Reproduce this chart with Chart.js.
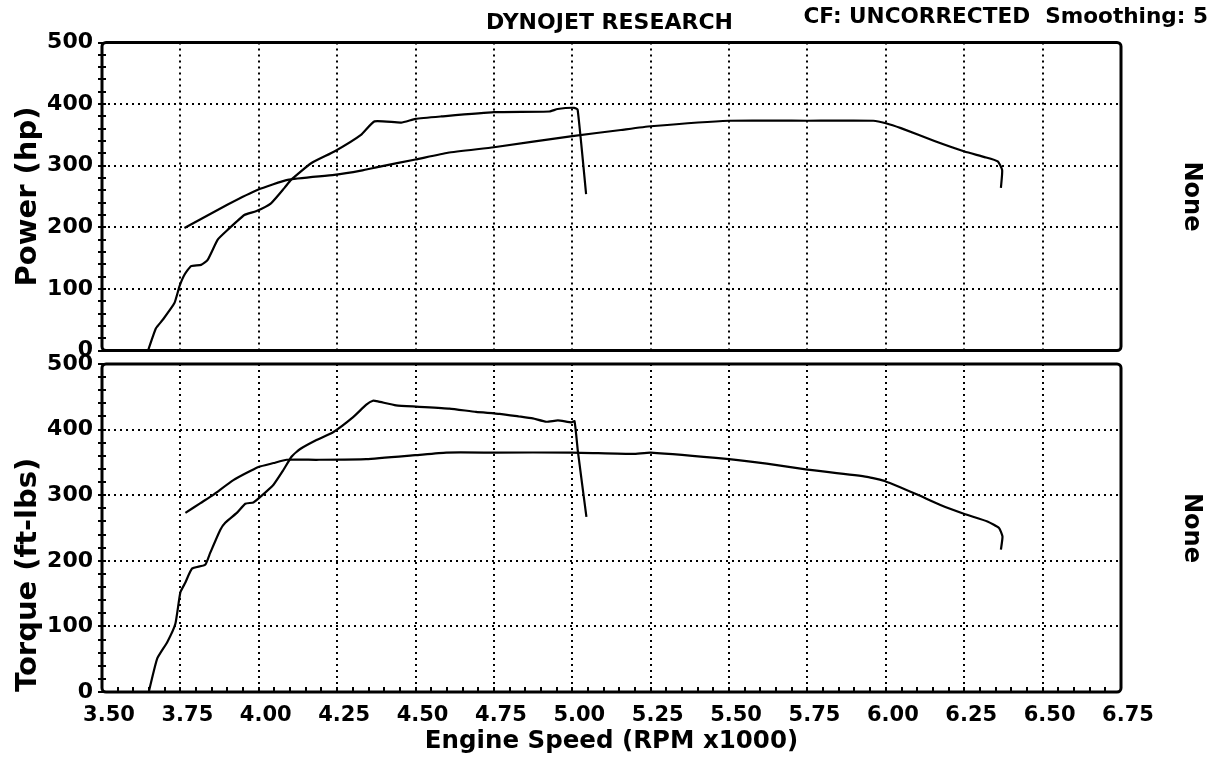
<!DOCTYPE html>
<html>
<head>
<meta charset="utf-8">
<title>Dynojet run</title>
<script src="https://cdn.jsdelivr.net/npm/chart.js@4.4.1/dist/chart.umd.min.js"></script>
<style>
  html, body { margin: 0; padding: 0; background: #fff; }
  #wrap { position: relative; width: 1212px; height: 757px; overflow: hidden; font-family: "DejaVu Sans", sans-serif; }
  .hdr { position: absolute; font-weight: bold; font-size: 22px; line-height: 22px; color: #000; white-space: pre; }
  #topBox { position: absolute; left: 0; top: 0; width: 1212px; height: 375px; }
  #botBox { position: absolute; left: 0; top: 340px; width: 1212px; height: 417px; }
</style>
</head>
<body>
<div id="wrap">
  <div id="topBox"><canvas id="powerChart"></canvas></div>
  <div id="botBox"><canvas id="torqueChart"></canvas></div>
  <div class="hdr" style="left:486px; top:11px;">DYNOJET RESEARCH</div>
  <div class="hdr" style="right:4px; top:5px; font-size:21.6px;">CF: UNCORRECTED  Smoothing: 5</div>
</div>
<script>
// values (rpm in thousands)
const rpmTicks = [3.50, 3.75, 4.00, 4.25, 4.50, 4.75, 5.00, 5.25, 5.50, 5.75, 6.00, 6.25, 6.50, 6.75];

// run 1 - the short pull that peaks near 4350 rpm
const rpmPowerA = [3.647, 3.672, 3.694, 3.731, 3.747, 3.763, 3.784, 3.816, 3.837, 3.869, 3.901, 3.954, 3.991, 4.039, 4.082, 4.103, 4.167, 4.241, 4.326, 4.369, 4.454, 4.50, 4.582, 4.75, 4.927, 4.953, 5.006, 5.017, 5.044];
const powerA    = [0, 36, 50, 77, 104, 123, 137, 139, 147, 180, 196, 220, 226, 239, 264, 277, 304, 323, 350, 372, 370, 376, 380, 387, 388, 392, 394, 391, 254];

// run 2 - the long pull out to 6350 rpm
const rpmPowerB = [3.763, 3.901, 3.997, 4.092, 4.241, 4.326, 4.39, 4.50, 4.603, 4.75, 5.00, 5.155, 5.25, 5.50, 5.75, 5.96, 6.00, 6.048, 6.155, 6.251, 6.315, 6.357, 6.371, 6.367];
const powerB    = [199, 237, 261, 277, 285, 292, 299, 310, 321, 330, 348, 358, 364, 373, 373, 373, 369, 361, 340, 323, 314, 307, 293, 264];

const rpmTorqueA = [3.649, 3.676, 3.708, 3.734, 3.750, 3.766, 3.787, 3.829, 3.845, 3.877, 3.893, 3.930, 3.957, 3.983, 4.004, 4.047, 4.078, 4.105, 4.131, 4.184, 4.237, 4.301, 4.343, 4.364, 4.380, 4.438, 4.502, 4.608, 4.693, 4.768, 4.830, 4.874, 4.917, 4.954, 4.997, 5.007, 5.018, 5.045];
const torqueA    = [0, 51, 76, 104, 152, 167, 188, 194, 212, 247, 258, 273, 287, 289, 297, 316, 338, 359, 370, 384, 396, 419, 438, 444, 443, 437, 435, 432, 427, 424, 420, 417, 412, 414, 411, 413, 366, 267];

const rpmTorqueB = [3.766, 3.814, 3.856, 3.919, 3.999, 4.047, 4.089, 4.184, 4.343, 4.499, 4.598, 4.749, 5.00, 5.194, 5.25, 5.50, 5.62, 5.75, 5.94, 6.00, 6.10, 6.174, 6.253, 6.324, 6.361, 6.372, 6.367];
const torqueB    = [273, 288, 301, 323, 343, 349, 354, 354, 355, 361, 365, 365, 365, 363, 365, 355, 348, 339, 328, 321, 301, 285, 271, 260, 250, 237, 217];

const BOLD = 'DejaVu Sans';

function pts(xs, ys) {
  return xs.map((x, i) => ({ x: x, y: ys[i] }));
}

function runLine(xs, ys) {
  return {
    data: pts(xs, ys),
    borderColor: '#000',
    borderWidth: 2.2,
    pointRadius: 0,
    tension: 0.15,
    fill: false
  };
}

// dotted grid, rounded frame and the small minor ticks
const dynoFrame = {
  id: 'dynoFrame',
  beforeDatasetsDraw(chart) {
    const { ctx, chartArea: a } = chart;
    const x = chart.scales.x, y = chart.scales.y;
    ctx.save();
    ctx.strokeStyle = '#000';
    ctx.lineWidth = 2;
    ctx.setLineDash([2, 4]);
    rpmTicks.slice(1, -1).forEach(v => {
      const px = Math.round(x.getPixelForValue(v));
      ctx.beginPath(); ctx.moveTo(px, a.top); ctx.lineTo(px, a.bottom); ctx.stroke();
    });
    for (let v = 100; v < 500; v += 100) {
      const py = Math.round(y.getPixelForValue(v));
      ctx.beginPath(); ctx.moveTo(a.left, py); ctx.lineTo(a.right, py); ctx.stroke();
    }
    ctx.restore();
  },
  afterDatasetsDraw(chart, args, opts) {
    const { ctx, chartArea: a } = chart;
    const x = chart.scales.x, y = chart.scales.y;
    ctx.save();
    ctx.strokeStyle = '#000';
    ctx.setLineDash([]);
    ctx.lineWidth = 2;
    for (let v = 0; v <= 500; v += 20) {
      const py = Math.round(y.getPixelForValue(v));
      ctx.beginPath(); ctx.moveTo(a.left - 4, py); ctx.lineTo(a.left + 4, py); ctx.stroke();
    }
    if (opts.xTicks) {
      for (let i = 1; i < 65; i++) {
        const px = Math.round(x.getPixelForValue(3.5 + i * 0.05));
        ctx.beginPath(); ctx.moveTo(px, a.bottom); ctx.lineTo(px, a.bottom - 5); ctx.stroke();
      }
    }
    ctx.lineWidth = 3;
    ctx.beginPath();
    ctx.roundRect(a.left, a.top, a.right - a.left, a.bottom - a.top, 4);
    ctx.stroke();
    ctx.restore();
  }
};

function dynoOptions(yTitle, titleAlign, showX, pad) {
  return {
    responsive: true,
    maintainAspectRatio: false,
    animation: false,
    devicePixelRatio: 1,
    layout: { padding: pad },
    plugins: {
      legend: { display: false },
      tooltip: { enabled: false },
      dynoFrame: { xTicks: showX }
    },
    scales: {
      x: {
        type: 'linear',
        min: 3.5,
        max: 6.75,
        display: showX,
        afterBuildTicks(s) { s.ticks = rpmTicks.map(v => ({ value: v })); },
        afterFit(s) { if (showX) s.height = 65; },
        grid: { display: false, drawTicks: false },
        border: { display: false },
        ticks: {
          color: '#000',
          padding: 11,
          labelOffset: 7,
          maxRotation: 0,
          autoSkip: false,
          font: { family: BOLD, weight: 'bold', size: 21 },
          callback: v => Number(v).toFixed(2)
        },
        title: {
          display: true,
          text: 'Engine Speed (RPM x1000)',
          color: '#000',
          padding: { top: 0, bottom: 1 },
          font: { family: BOLD, weight: 'bold', size: 24.5 }
        }
      },
      y: {
        min: 0,
        max: 500,
        afterFit(s) { s.width = 102; },
        grid: { display: false, drawTicks: false },
        border: { display: false },
        ticks: {
          stepSize: 100,
          color: '#000',
          padding: 9,
          font: { family: BOLD, weight: 'bold', size: 22 }
        },
        title: {
          display: true,
          text: yTitle,
          align: titleAlign,
          color: '#000',
          padding: { top: 11, bottom: 0 },
          font: { family: BOLD, weight: 'bold', size: 29 }
        }
      },
      y2: {
        position: 'right',
        min: 0,
        max: 500,
        afterFit(s) { s.width = 91; },
        grid: { display: false, drawTicks: false },
        border: { display: false },
        ticks: { display: false },
        title: {
          display: true,
          text: 'None',
          color: '#000',
          padding: { top: 6, bottom: 0 },
          font: { family: BOLD, weight: 'bold', size: 24 }
        }
      }
    }
  };
}

new Chart(document.getElementById('powerChart'), {
  type: 'line',
  data: { datasets: [runLine(rpmPowerA, powerA), runLine(rpmPowerB, powerB)] },
  options: dynoOptions('Power (hp)', 'center', false, { top: 42.5, bottom: 24.5, left: 0, right: 0 }),
  plugins: [dynoFrame]
});

new Chart(document.getElementById('torqueChart'), {
  type: 'line',
  data: { datasets: [runLine(rpmTorqueA, torqueA), runLine(rpmTorqueB, torqueB)] },
  options: dynoOptions('Torque (ft-lbs)', 'start', true, { top: 24, bottom: 0, left: 0, right: 0 }),
  plugins: [dynoFrame]
});
</script>
</body>
</html>
